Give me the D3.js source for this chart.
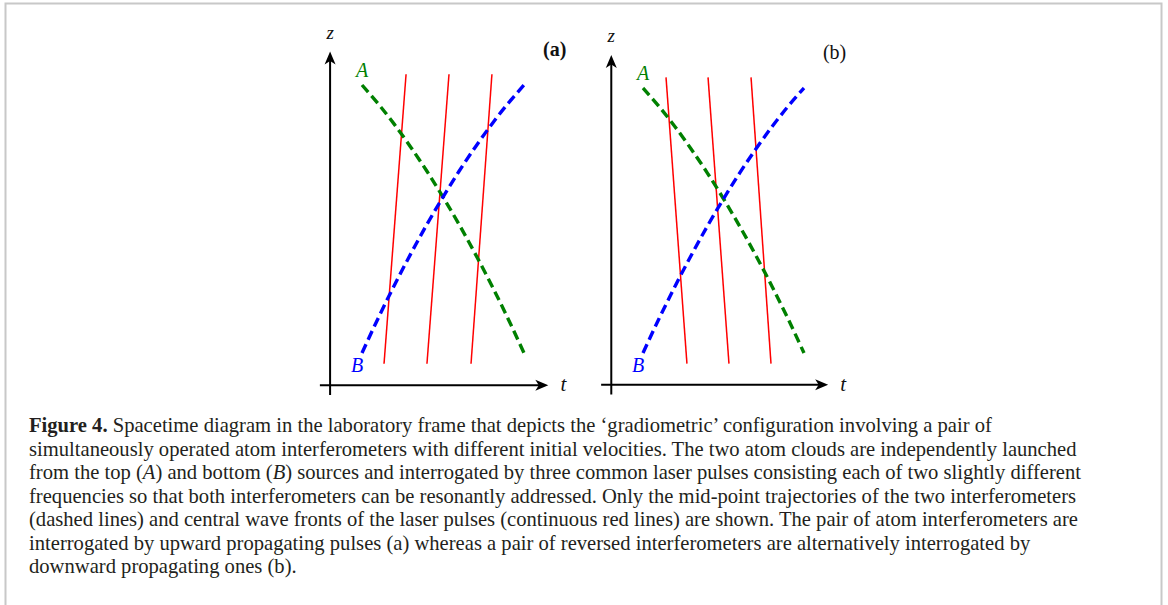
<!DOCTYPE html>
<html>
<head>
<meta charset="utf-8">
<script src="https://cdn.jsdelivr.net/npm/d3@7"></script>
<style>
  html, body { margin: 0; padding: 0; background: #fff; }
  svg { display: block; }
</style>
</head>
<body>
<svg id="chart" width="1168" height="605"></svg>
<script>
// trajectory samples, normalised units (t: launch -> end, z: bottom -> top source)
const tSamples = [0, 0.1, 0.2, 0.3, 0.4, 0.5, 0.6, 0.7, 0.8, 0.9, 1.0];
const zTrajA = [1.0, 0.930, 0.853, 0.769, 0.679, 0.582, 0.479, 0.369, 0.253, 0.130, 0.0];
const zTrajB = [0.0, 0.130, 0.253, 0.369, 0.479, 0.582, 0.679, 0.769, 0.853, 0.930, 1.0];

// laser pulse wave fronts: t at the bottom / top end of each red line
const pulseBottomUp = [0.136, 0.401, 0.673];
const pulseTopUp = [0.272, 0.537, 0.802];
const pulseBottomDown = [0.273, 0.534, 0.795];
const pulseTopDown = [0.143, 0.404, 0.671];
const pulseZ = [-0.04, 1.04];

// axes, same units
const tAxisExtent = [-0.26, 1.15];
const zAxisExtent = [-0.157, 1.125];
const axisOrigin = [-0.197, -0.12];

const panelLabels = ["(a)", "(b)"];

const captionHead = "Figure 4.";
const captionLines = [
  " Spacetime diagram in the laboratory frame that depicts the \u2018gradiometric\u2019 configuration involving a pair of",
  "simultaneously operated atom interferometers with different initial velocities. The two atom clouds are independently launched",
  "from the top (|A|) and bottom (|B|) sources and interrogated by three common laser pulses consisting each of two slightly different",
  "frequencies so that both interferometers can be resonantly addressed. Only the mid-point trajectories of the two interferometers",
  "(dashed lines) and central wave fronts of the laser pulses (continuous red lines) are shown. The pair of atom interferometers are",
  "interrogated by upward propagating pulses (a) whereas a pair of reversed interferometers are alternatively interrogated by",
  "downward propagating ones (b)."
];

const GREEN = "#008000";
const BLUE = "#0000ff";
const RED = "#ff0000";
const MATH_FONT = "'Liberation Serif', 'DejaVu Serif', serif";

const svg = d3.select("#chart");

// frame around the figure
svg.append("rect")
   .attr("x", 5.5).attr("y", 3.5)
   .attr("width", 1156).attr("height", 640)
   .attr("fill", "none")
   .attr("stroke", "#c8c8c8")
   .attr("stroke-width", 2);

const panels = [
  { label: panelLabels[0], bold: true,  xr: [362, 524], yr: [353, 85], bottoms: pulseBottomUp, tops: pulseTopUp },
  { label: panelLabels[1], bold: false, xr: [643, 804], yr: [353, 88], bottoms: pulseBottomDown, tops: pulseTopDown }
];

function arrowHead(g, x, y, angle) {
  g.append("path")
   .attr("d", "M0,0 L-13,-5.5 L-9.5,0 L-13,5.5 Z")
   .attr("fill", "#000")
   .attr("transform", `translate(${x},${y}) rotate(${angle})`);
}

panels.forEach(p => {
  const x = d3.scaleLinear().domain([0, 1]).range(p.xr);
  const y = d3.scaleLinear().domain([0, 1]).range(p.yr);
  const g = svg.append("g");

  // axes
  const ox = x(axisOrigin[0]), oy = y(axisOrigin[1]);
  const tipX = x(tAxisExtent[1]), tipY = y(zAxisExtent[1]);
  g.append("line")
   .attr("x1", x(tAxisExtent[0])).attr("x2", tipX - 4)
   .attr("y1", oy).attr("y2", oy)
   .attr("stroke", "#000").attr("stroke-width", 2);
  g.append("line")
   .attr("x1", ox).attr("x2", ox)
   .attr("y1", y(zAxisExtent[0])).attr("y2", tipY + 4)
   .attr("stroke", "#000").attr("stroke-width", 2);
  arrowHead(g, tipX, oy, 0);
  arrowHead(g, ox, tipY, -90);

  g.append("text")
   .attr("x", tipX + 15).attr("y", oy + 6)
   .attr("text-anchor", "middle")
   .style("font-family", MATH_FONT).style("font-style", "italic")
   .style("font-size", "21px").attr("fill", "#111")
   .text("t");
  g.append("text")
   .attr("x", ox).attr("y", tipY - 13)
   .attr("text-anchor", "middle")
   .style("font-family", MATH_FONT).style("font-style", "italic")
   .style("font-size", "19px").attr("fill", "#111")
   .text("z");

  // laser pulse wave fronts
  g.selectAll(".pulse")
   .data(p.bottoms.map((b, i) => [b, p.tops[i]]))
   .enter().append("line")
   .attr("class", "pulse")
   .attr("x1", d => x(d[0])).attr("y1", y(pulseZ[0]))
   .attr("x2", d => x(d[1])).attr("y2", y(pulseZ[1]))
   .attr("stroke", RED).attr("stroke-width", 1.5);

  // atom trajectories
  const line = d3.line()
    .x(d => x(d[0]))
    .y(d => y(d[1]))
    .curve(d3.curveMonotoneX);
  [[zTrajA, GREEN], [zTrajB, BLUE]].forEach(([zs, col]) => {
    g.append("path")
     .datum(tSamples.map((t, i) => [t, zs[i]]))
     .attr("d", line)
     .attr("fill", "none")
     .attr("stroke", col)
     .attr("stroke-width", 3.4)
     .attr("stroke-dasharray", "9.5,5");
  });

  g.append("text")
   .attr("x", x(0)).attr("y", y(1) - 8)
   .attr("text-anchor", "middle")
   .style("font-family", MATH_FONT).style("font-style", "italic")
   .style("font-size", "20px").attr("fill", GREEN)
   .text("A");
  g.append("text")
   .attr("x", x(0) - 5).attr("y", y(0) + 19)
   .attr("text-anchor", "middle")
   .style("font-family", MATH_FONT).style("font-style", "italic")
   .style("font-size", "20px").attr("fill", BLUE)
   .text("B");

  g.append("text")
   .attr("x", x(1.19)).attr("y", y(1.11))
   .attr("text-anchor", "middle")
   .style("font-family", MATH_FONT)
   .style("font-weight", p.bold ? "bold" : "normal")
   .style("font-size", "20px").attr("fill", "#111")
   .text(p.label);
});

// caption
const cap = svg.append("g")
  .style("font-family", "'Liberation Serif', 'DejaVu Serif', serif")
  .attr("fill", "#231f20");

const lineY = d3.scaleLinear().domain([0, 6]).range([432, 573]);

function fillLine(textEl, str) {
  str.split("|").forEach((part, i) => {
    if (!part) return;
    textEl.append("tspan")
      .style("font-style", i % 2 ? "italic" : "normal")
      .text(part);
  });
}

const capTexts = captionLines.map((str, i) => {
  const t = cap.append("text").attr("x", 29).attr("y", lineY(i));
  if (i === 0) t.append("tspan").style("font-weight", "bold").text(captionHead);
  fillLine(t, str);
  return t;
});

// fit font size so the second line matches the reference width
cap.style("font-size", "20px");
const w = capTexts[1].node().getComputedTextLength();
cap.style("font-size", (20 * 1048 / w).toFixed(2) + "px");
</script>
</body>
</html>
